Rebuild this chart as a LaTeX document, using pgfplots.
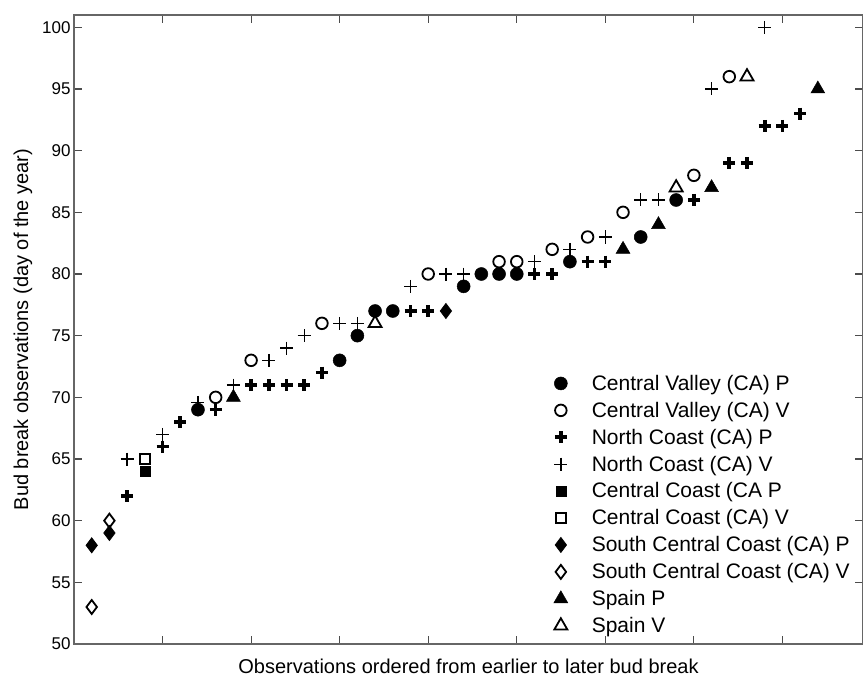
\documentclass[border=0pt]{standalone}
\usepackage{fontspec}
\setmainfont{Liberation Sans}
\usepackage{pgfplots}
\pgfplotsset{compat=1.18}
\begin{document}
\begin{tikzpicture}
\begin{axis}[
  name=ax,
  scale only axis,
  width=789pt, height=629pt,
  xmin=0, xmax=44.55,
  ymin=50, ymax=101,
  xtick={5,10,...,40},
  xticklabels={},
  ytick={50,55,...,100},
  tick align=inside,
  tick pos=both,
  major tick length=8pt,
  axis line style={black!60, line width=1.2pt},
  tick style={black!70, line width=1.1pt},
  /pgf/number format/assume math mode=true,
  yticklabel style={font=\fontsize{17}{20}\selectfont},
  every axis y label/.style={at={(axis description cs:-0.0647,0.5)},rotate=90,anchor=center,font=\fontsize{20}{24}\selectfont},
  every axis x label/.style={at={(axis description cs:0.5,-0.035)},anchor=center,inner sep=0pt,font=\fontsize{20}{24}\selectfont},
  xlabel={Observations ordered from earlier to later bud break},
  ylabel={Bud break observations (day of the year)},
  legend image code/.code={\draw[#1] plot coordinates {(0pt,0pt)};},
  legend cell align=left,
  legend style={at={(axis description cs:0.608,0.431)}, anchor=north west, draw=none, fill=none,
    font=\fontsize{21}{25}\selectfont, inner sep=0pt, row sep=6.2pt, column sep=22pt},
]
% Central Valley P
\addplot[only marks, mark=*, mark size=6.5pt, black, mark options={fill=black, line width=0.5pt}] coordinates {
(7,69) (15,73) (16,75) (17,77) (18,77) (22,79) (23,80) (24,80) (25,80) (28,81) (32,83) (34,86)};
\addlegendentry{Central Valley (CA) P}
% Central Valley V
\addplot[only marks, mark=o, mark size=5.8pt, black, mark options={line width=1.8pt}] coordinates {
(8,70) (10,73) (14,76) (20,80) (24,81) (25,81) (27,82) (29,83) (31,85) (35,88) (37,96)};
\addlegendentry{Central Valley (CA) V}
% North Coast P
\addplot[only marks, mark=+, mark size=6pt, black, mark options={line width=3.6pt}] coordinates {
(3,62) (5,66) (6,68) (8,69) (10,71) (11,71) (12,71) (13,71) (14,72) (19,77) (20,77) (26,80) (27,80) (29,81) (30,81) (35,86) (37,89) (38,89) (39,92) (40,92) (41,93)};
\addlegendentry{North Coast (CA) P}
% North Coast V
\addplot[only marks, mark=+, mark size=6.5pt, black, mark options={line width=1.4pt}] coordinates {
(3,65) (5,67) (7,69.6) (9,71) (11,73) (12,74) (13,75) (15,76) (16,76) (19,79) (21,80) (22,80) (26,81) (28,82) (30,83) (32,86) (33,86) (36,95) (39,100)};
\addlegendentry{North Coast (CA) V}
% Central Coast P
\addplot[only marks, mark=square*, mark size=5pt, black, mark options={fill=black, line width=0.5pt}] coordinates {(4,64)};
\addlegendentry{Central Coast (CA P}
% Central Coast V
\addplot[only marks, mark=square, mark size=4.8pt, black, mark options={line width=1.8pt}] coordinates {(4,65)};
\addlegendentry{Central Coast (CA) V}
% South Central Coast P
\addplot[only marks, mark=diamond*, mark size=7.5pt, black, mark options={fill=black, line width=0.8pt}] coordinates {(1,58) (2,59) (21,77)};
\addlegendentry{South Central Coast (CA) P}
% South Central Coast V
\addplot[only marks, mark=diamond, mark size=7pt, black, mark options={line width=1.8pt}] coordinates {(1,53) (2,60)};
\addlegendentry{South Central Coast (CA) V}
% Spain P
\addplot[only marks, mark=triangle*, mark size=8pt, black, mark options={fill=black, line width=0.5pt}] coordinates {(9,70) (31,82) (33,84) (36,87) (42,95)};
\addlegendentry{Spain P}
% Spain V
\addplot[only marks, mark=triangle, mark size=7.5pt, black, mark options={line width=1.8pt}] coordinates {(17,76) (34,87) (38,96)};
\addlegendentry{Spain V}
\end{axis}
\pgfresetboundingbox
\path[use as bounding box] ([xshift=-74pt,yshift=-33pt]ax.south west) rectangle ([xshift=0pt,yshift=15pt]ax.north east);
\end{tikzpicture}
\end{document}
